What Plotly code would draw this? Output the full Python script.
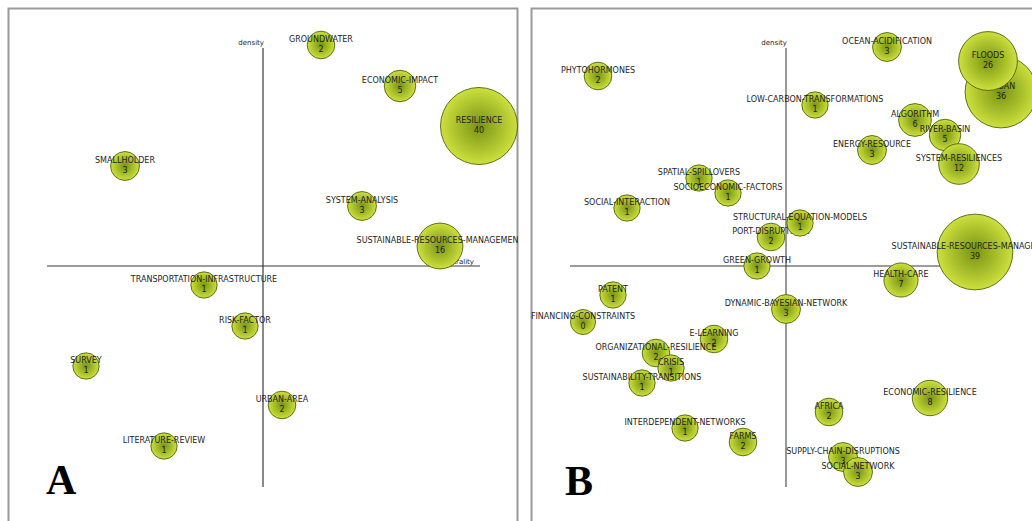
import plotly.graph_objects as go

# ---------------- Panel A data (centrality, density, documents) ----------------
names_a = ["GROUNDWATER", "ECONOMIC-IMPACT", "RESILIENCE", "SMALLHOLDER", "SYSTEM-ANALYSIS",
           "SUSTAINABLE-RESOURCES-MANAGEMENT", "TRANSPORTATION-INFRASTRUCTURE", "RISK-FACTOR",
           "SURVEY", "URBAN-AREA", "LITERATURE-REVIEW"]
cent_a = [58, 137, 216, -138, 99, 177, -59, -18, -177, 19, -99]
dens_a = [221, 180, 140, 100, 60, 20, -19, -60, -100, -139, -180]
docs_a = [2, 5, 40, 3, 3, 16, 1, 1, 1, 2, 1]

# ---------------- Panel B data ----------------
names_b = ["PHYTOHORMONES", "OCEAN-ACIDIFICATION", "URBAN", "FLOODS", "LOW-CARBON-TRANSFORMATIONS",
           "ALGORITHM", "RIVER-BASIN", "ENERGY-RESOURCE", "SYSTEM-RESILIENCES", "SPATIAL-SPILLOVERS",
           "SOCIOECONOMIC-FACTORS", "SOCIAL-INTERACTION", "PORT-DISRUPTIONS", "STRUCTURAL-EQUATION-MODELS",
           "SUSTAINABLE-RESOURCES-MANAGEMENT", "GREEN-GROWTH", "HEALTH-CARE", "PATENT",
           "DYNAMIC-BAYESIAN-NETWORK", "FINANCING-CONSTRAINTS", "E-LEARNING", "ORGANIZATIONAL-RESILIENCE",
           "CRISIS", "SUSTAINABILITY-TRANSITIONS", "ECONOMIC-RESILIENCE", "AFRICA",
           "INTERDEPENDENT-NETWORKS", "FARMS", "SUPPLY-CHAIN-DISRUPTIONS", "SOCIAL-NETWORK"]
cent_b = [-188, 101, 215, 202, 29, 129, 159, 86, 173, -87, -58, -159, -15, 14, 189, -29, 115, -173,
          0, -203, -72, -130, -115, -144, 144, 43, -101, -43, 57, 72]
dens_b = [190, 219, 174, 205, 161, 146, 131, 116, 102, 88, 73, 58, 29, 43, 14, 0, -14, -29,
          -43, -56, -73, -87, -102, -117, -132, -146, -162, -176, -191, -206]
docs_b = [2, 3, 36, 26, 1, 6, 5, 3, 12, 1, 1, 1, 2, 1, 39, 1, 7, 1, 3, 0, 2, 2, 1, 1, 8, 2, 1, 2, 3, 3]

panel_letters = ["A", "B"]

FILL = "#cde03e"
EDGE = "#789312"
OUTLINE = "#4f640c"
TXT = "#1e1e1e"
FONT = "DejaVu Sans"

fig = go.Figure()


def add_panel(names, cent, dens, docs, xa, ya, lab_x):
    # axis titles (drawn first so bubbles can cover them)
    fig.add_trace(go.Scatter(x=[1], y=[219], mode="text", text=["density"], textposition="top left",
                             textfont=dict(family=FONT, size=7, color=TXT), hoverinfo="skip",
                             showlegend=False, xaxis=xa, yaxis=ya, cliponaxis=True))
    fig.add_trace(go.Scatter(x=[lab_x], y=[0], mode="text", text=["centrality"], textposition="top left",
                             textfont=dict(family=FONT, size=7, color=TXT), hoverinfo="skip",
                             showlegend=False, xaxis=xa, yaxis=ya, cliponaxis=True))
    for n, c, d, k in zip(names, cent, dens, docs):
        fig.add_trace(go.Scatter(
            x=[c], y=[d], mode="markers+text", text=[f"{n}<br>{k}"], textposition="middle center",
            marker=dict(size=2 * (12.5 + 0.65 * k), color=FILL,
                        gradient=dict(type="radial", color=EDGE),
                        line=dict(color=OUTLINE, width=0.9), opacity=1),
            textfont=dict(family=FONT, size=8, color=TXT),
            hoverinfo="skip", showlegend=False, xaxis=xa, yaxis=ya, cliponaxis=True))


add_panel(names_a, cent_a, dens_a, docs_a, "x", "y", 211)
add_panel(names_b, cent_b, dens_b, docs_b, "x2", "y2", 214)

shapes = []
for xr, yr, lc in [("x", "y", "#3a3a3a"), ("x2", "y2", "#555555")]:
    shapes.append(dict(type="line", xref=xr, yref=yr, x0=0, x1=0, y0=-221, y1=218,
                       line=dict(color=lc, width=1.2), layer="below"))
    shapes.append(dict(type="line", xref=xr, yref=yr, x0=-216, x1=217, y0=0, y1=0,
                       line=dict(color="#3a3a3a", width=1.2), layer="below"))
# panel frames
shapes.append(dict(type="rect", xref="paper", yref="paper", x0=8.5 / 1032, x1=517.5 / 1032,
                   y0=-0.1, y1=1 - 8.5 / 521, line=dict(color="#9a9a9a", width=2), layer="below"))
shapes.append(dict(type="rect", xref="paper", yref="paper", x0=531.5 / 1032, x1=1.1,
                   y0=-0.1, y1=1 - 8.5 / 521, line=dict(color="#9a9a9a", width=2), layer="below"))

annotations = [
    dict(text=f"<b>{panel_letters[0]}</b>", x=61 / 1032, y=1 - 480 / 521, xref="paper", yref="paper",
         showarrow=False, xanchor="center", yanchor="middle",
         font=dict(family="Liberation Serif", size=42, color="#000")),
    dict(text=f"<b>{panel_letters[1]}</b>", x=579 / 1032, y=1 - 481 / 521, xref="paper", yref="paper",
         showarrow=False, xanchor="center", yanchor="middle",
         font=dict(family="Liberation Serif", size=42, color="#000")),
]

ax_common = dict(visible=False, showgrid=False, zeroline=False, fixedrange=True)
fig.update_layout(
    width=1032, height=521, margin=dict(l=0, r=0, t=0, b=0),
    paper_bgcolor="white", plot_bgcolor="rgba(0,0,0,0)",
    xaxis=dict(domain=[8 / 1032, 518 / 1032], range=[-255, 255], anchor="y", **ax_common),
    yaxis=dict(domain=[0, 1], range=[-255, 266], anchor="x", **ax_common),
    xaxis2=dict(domain=[531 / 1032, 1], range=[-255, 246], anchor="y2", **ax_common),
    yaxis2=dict(domain=[0, 1], range=[-255, 266], anchor="x2", **ax_common),
    shapes=shapes, annotations=annotations, showlegend=False,
)

fig.write_html("out.html", config={"displayModeBar": False},
               post_script="document.body.style.margin='0';document.body.style.overflow='hidden';")
